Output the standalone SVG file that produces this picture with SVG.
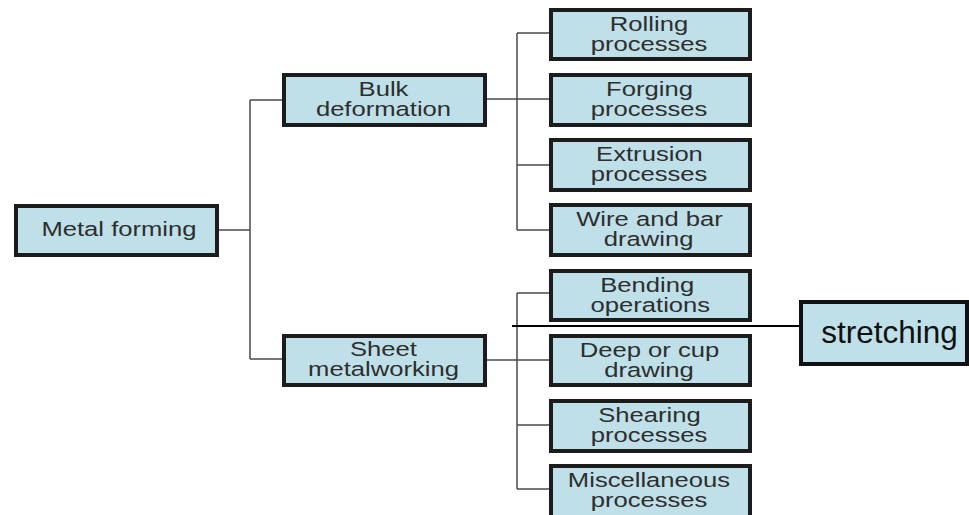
<svg xmlns="http://www.w3.org/2000/svg" width="969" height="515" viewBox="0 0 969 515">
<style>
.box{fill:#bfe0e8;stroke:#1c1c1c;stroke-width:4}
.t{font-family:"Liberation Sans",Arial,sans-serif;font-size:20.5px;fill:#2e2e2e;text-anchor:middle}
.c{fill:none;stroke:#4a4a4a;stroke-width:1.5}
.st{font-family:"Liberation Sans",Arial,sans-serif;font-size:31.5px;fill:#111;text-anchor:middle}
</style>
<rect width="969" height="515" fill="#fff"/>
<g id="connectors">
<path class="c" d="M219,230H250M250,100V359M250,100H284M250,359H284"/>
<path class="c" d="M487,99H551M517,33V230M517,33H551M517,165H551M517,230H551"/>
<path class="c" d="M487,360H551M517,293V489M517,293H551M517,425H551M517,489H551"/>
<path d="M512,326H801" stroke="#000" stroke-width="2" fill="none"/>
</g>
<g id="metal-forming">
<rect class="box" x="16" y="206" width="201" height="49"/>
<text class="t" transform="scale(1.25 1)" x="95.2" y="236">Metal forming</text>
</g>
<g id="bulk-deformation">
<rect class="box" x="284" y="75" width="201" height="50"/>
<text class="t" transform="scale(1.25 1)" x="306.8" y="96.5">Bulk</text>
<text class="t" transform="scale(1.25 1)" x="306.8" y="116.5">deformation</text>
</g>
<g id="sheet-metalworking">
<rect class="box" x="284" y="336" width="201" height="49"/>
<text class="t" transform="scale(1.25 1)" x="306.8" y="356.5">Sheet</text>
<text class="t" transform="scale(1.25 1)" x="306.8" y="376.5">metalworking</text>
</g>
<g id="rolling">
<rect class="box" x="551" y="10" width="199" height="49"/>
<text class="t" transform="scale(1.25 1)" x="519.2" y="31">Rolling</text>
<text class="t" transform="scale(1.25 1)" x="519.2" y="51">processes</text>
</g>
<g id="forging">
<rect class="box" x="551" y="75" width="199" height="50"/>
<text class="t" transform="scale(1.25 1)" x="519.6" y="96.5">Forging</text>
<text class="t" transform="scale(1.25 1)" x="519.2" y="116.5">processes</text>
</g>
<g id="extrusion">
<rect class="box" x="551" y="140" width="199" height="50"/>
<text class="t" transform="scale(1.25 1)" x="519.6" y="161.5">Extrusion</text>
<text class="t" transform="scale(1.25 1)" x="519.2" y="181.5">processes</text>
</g>
<g id="wire-bar">
<rect class="box" x="551" y="205" width="199" height="50"/>
<text class="t" transform="scale(1.25 1)" x="519.6" y="226.5">Wire and bar</text>
<text class="t" transform="scale(1.25 1)" x="518.9" y="246.5">drawing</text>
</g>
<g id="bending">
<rect class="box" x="551" y="271" width="199" height="49"/>
<text class="t" transform="scale(1.25 1)" x="517.8" y="292">Bending</text>
<text class="t" transform="scale(1.25 1)" x="520.3" y="312">operations</text>
</g>
<g id="deep-cup">
<rect class="box" x="551" y="336" width="199" height="49"/>
<text class="t" transform="scale(1.25 1)" x="519.6" y="357">Deep or cup</text>
<text class="t" transform="scale(1.25 1)" x="519.2" y="377">drawing</text>
</g>
<g id="shearing">
<rect class="box" x="551" y="401" width="199" height="50"/>
<text class="t" transform="scale(1.25 1)" x="519.6" y="422.5">Shearing</text>
<text class="t" transform="scale(1.25 1)" x="519.2" y="442.5">processes</text>
</g>
<g id="miscellaneous">
<rect class="box" x="551" y="466" width="199" height="52"/>
<text class="t" transform="scale(1.25 1)" x="519.2" y="487">Miscellaneous</text>
<text class="t" transform="scale(1.25 1)" x="519.2" y="507">processes</text>
</g>
<g id="stretching">
<rect x="801" y="302" width="166" height="62" fill="#bfe0e8" stroke="#111" stroke-width="4"/>
<text class="st" x="889.5" y="343">stretching</text>
</g>
</svg>
